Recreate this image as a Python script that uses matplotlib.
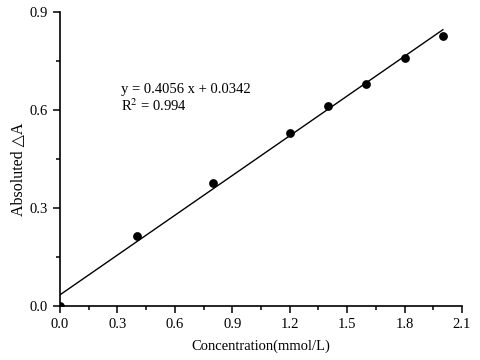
import matplotlib
matplotlib.use("Agg")
import matplotlib.pyplot as plt
from matplotlib.ticker import MultipleLocator
import numpy as np

plt.rcParams['font.family'] = ['Liberation Serif', 'DejaVu Sans']
plt.rcParams['mathtext.fontset'] = 'stix'

# measured data
conc = [0.0, 0.4, 0.8, 1.2, 1.4, 1.6, 1.8, 2.0]
absorb = [0.0, 0.215, 0.375, 0.53, 0.612, 0.68, 0.758, 0.826]

# fit reported on the chart
slope = 0.4056
intercept = 0.0342
r2 = 0.994

fig = plt.figure(figsize=(4.8, 3.6), dpi=100)
ax = fig.add_axes([0.125, 0.15, 0.8375, 0.817])

ax.scatter(conc, absorb, s=28, color='black', zorder=3, clip_on=True)
xf = np.array([0.0, 2.0])
ax.plot(xf, slope * xf + intercept, color='black', lw=1.0)

ax.set_xlim(0, 2.1)
ax.set_ylim(0, 0.9)
ax.xaxis.set_major_locator(MultipleLocator(0.3))
ax.xaxis.set_minor_locator(MultipleLocator(0.15))
ax.yaxis.set_major_locator(MultipleLocator(0.3))
ax.yaxis.set_minor_locator(MultipleLocator(0.15))
ax.xaxis.set_major_formatter(lambda v, p: f"{v:.1f}")
ax.yaxis.set_major_formatter(lambda v, p: f"{v:.1f}")

for s in ['top', 'right']:
    ax.spines[s].set_visible(False)
for s in ['left', 'bottom']:
    ax.spines[s].set_linewidth(1.2)
ax.tick_params(which='major', direction='out', length=5, width=1.1, labelsize=10.5)
ax.tick_params(which='minor', direction='out', length=3, width=1.1)

ax.text(0.32, 0.652, f"y = {slope} x + {intercept}", fontsize=10.5)
ax.text(0.32, 0.597, "R$^2$ = " + f"{r2}", fontsize=10.5)

ax.set_xlabel("Concentration(mmol/L)", fontsize=10.5, labelpad=6)
ax.set_ylabel("Absoluted \u25b3A", fontsize=11.5)
ax.yaxis.set_label_coords(-0.084, 0.466)

fig.savefig("out.png", dpi=100)
